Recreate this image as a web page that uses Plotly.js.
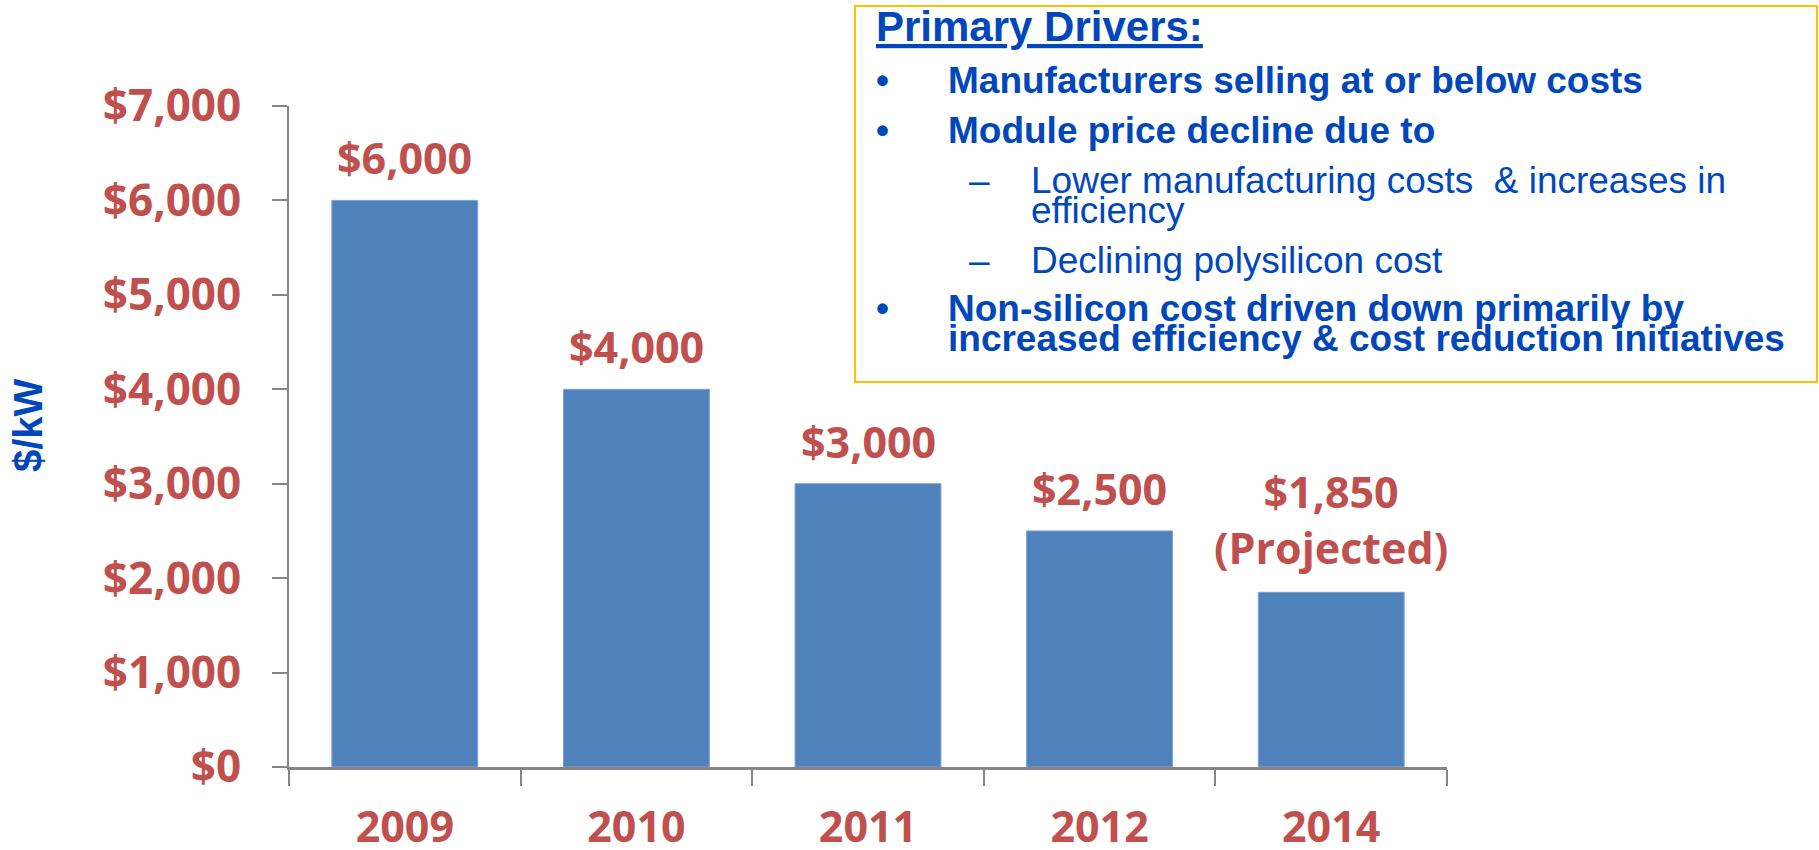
<!DOCTYPE html>
<html>
<head>
<meta charset="utf-8">
<script src="https://cdn.plot.ly/plotly-3.0.1.min.js"></script>
<style>
  html, body { margin: 0; padding: 0; background: #ffffff; }
  #chart { width: 1819px; height: 850px; }
</style>
</head>
<body>
<div id="chart"></div>
<script>
// ---- data ----
const years = ['2009', '2010', '2011', '2012', '2014'];
const costs = [6000, 4000, 3000, 2500, 1850];
const barLabels = ['$6,000', '$4,000', '$3,000', '$2,500', '$1,850<br>(Projected)'];
const yAxisTitle = '$/kW';
const boxTitle = 'Primary Drivers:';
const bulletItems = [
  ['Manufacturers selling at or below costs'],
  ['Module price decline due to'],
  ['Non-silicon cost driven down primarily by', 'increased efficiency & cost reduction initiatives']
];
const subItems = [
  ['Lower manufacturing costs  & increases in', 'efficiency'],
  ['Declining polysilicon cost']
];

// ---- layout helpers (pixel -> paper) ----
const W = 1819, H = 850;
const M = { l: 289, r: 372, t: 106, b: 83 };
const plotW = W - M.l - M.r, plotH = H - M.t - M.b;
const px = x => (x - M.l) / plotW;
const py = y => (H - M.b - y) / plotH;

const RED = '#C0504D';
const BLUE = '#0047BB';
const GREY = '#868686';
const numFont = 'Open Sans, sans-serif';
const txtFont = 'Liberation Sans, Arial, sans-serif';

const annotations = [];

// bar value labels (x given as category index on the category axis)
years.forEach((yr, i) => {
  annotations.push({
    xref: 'x', yref: 'y', x: i, y: costs[i],
    text: barLabels[i], showarrow: false,
    xanchor: 'center', yanchor: 'bottom', yshift: i === years.length - 1 ? 13 : 11,
    font: { family: numFont, size: 43, color: RED, weight: 'bold' }
  });
});

// y axis title
annotations.push({
  xref: 'paper', yref: 'paper', x: px(28), y: py(425),
  xanchor: 'center', yanchor: 'middle', textangle: -90, showarrow: false,
  text: yAxisTitle,
  font: { family: txtFont, size: 40, color: BLUE, weight: 'bold' }
});

// text box content
const baselineToCenter = (size) => 0.35 * size;
function addLine(text, xPix, baseline, size, bold) {
  annotations.push({
    xref: 'paper', yref: 'paper',
    x: px(xPix), y: py(baseline - baselineToCenter(size)),
    xanchor: 'left', yanchor: 'middle', showarrow: false,
    text: text,
    font: { family: txtFont, size: size, color: BLUE, weight: bold ? 'bold' : 'normal' }
  });
}
addLine('<u>' + boxTitle + '</u>', 874, 41, 42, true);
// bullets
const bulletBaselines = [[93], [143], [321, 351]];
bulletItems.forEach((lines, i) => {
  addLine('•', 874, bulletBaselines[i][0], 37, true);
  lines.forEach((t, j) => addLine(t, 946, bulletBaselines[i][j], 37, true));
});
// sub items
const subBaselines = [[193, 223], [273]];
subItems.forEach((lines, i) => {
  addLine('–', 967, subBaselines[i][0], 37, false);
  lines.forEach((t, j) => addLine(t, 1029, subBaselines[i][j], 37, false));
});

const trace = {
  type: 'bar',
  x: years,
  y: costs,
  marker: { color: '#4F81BD', line: { color: '#7FA3CF', width: 1 } },
  hoverinfo: 'x+y'
};

const layout = {
  width: W, height: H,
  margin: M,
  paper_bgcolor: '#ffffff', plot_bgcolor: '#ffffff',
  showlegend: false,
  bargap: 0.37,
  xaxis: {
    type: 'category',
    range: [-0.5, years.length - 0.5],
    autorange: false,
    tickson: 'boundaries',
    ticks: 'outside', ticklen: 16, tickwidth: 2, tickcolor: GREY,
    showline: true, linecolor: GREY, linewidth: 3,
    showgrid: false, zeroline: false,
    ticklabelstandoff: 20,
    tickangle: 0,
    tickfont: { family: numFont, size: 43, color: RED, weight: 'bold' }
  },
  yaxis: {
    range: [0, 7000],
    autorange: false,
    dtick: 1000, tick0: 0,
    tickprefix: '$', tickformat: ',d',
    ticks: 'outside', ticklen: 15, tickwidth: 2, tickcolor: GREY,
    showline: true, linecolor: GREY, linewidth: 2,
    showgrid: false, zeroline: false,
    ticklabelstandoff: 22,
    tickfont: { family: numFont, size: 44, color: RED, weight: 'bold' }
  },
  shapes: [{
    type: 'rect', xref: 'paper', yref: 'paper',
    x0: px(855), x1: px(1817), y0: py(382), y1: py(6),
    line: { color: '#FFC000', width: 2 },
    fillcolor: 'rgba(0,0,0,0)'
  }],
  annotations: annotations
};

Plotly.newPlot('chart', [trace], layout, { displayModeBar: false, staticPlot: true });
</script>
</body>
</html>
